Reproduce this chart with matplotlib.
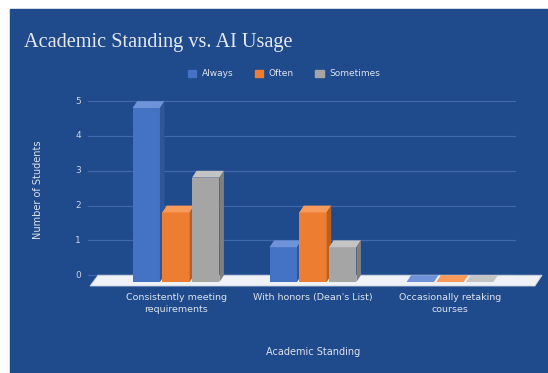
import numpy as np
import matplotlib.pyplot as plt
from matplotlib.patches import Polygon, Rectangle

# chart data
categories = ['Consistently meeting\nrequirements', "With honors (Dean's List)", 'Occasionally retaking\ncourses']
series = ['Always', 'Often', 'Sometimes']
always = [5, 1, 0]
often = [2, 2, 0]
sometimes = [3, 1, 0]
yticks = [0, 1, 2, 3, 4, 5]

colors = ['#4472c4', '#ed7d31', '#a5a5a5']
tops = ['#6f93d8', '#f79a5a', '#c4c4c4']
sides = ['#2f559a', '#b95f1f', '#7f7f7f']
bg = '#1f4a8c'
txt = '#dde3ee'
font = ['Liberation Sans Narrow', 'DejaVu Sans']

fig = plt.figure(figsize=(5.48, 3.73), dpi=100)
fig.patch.set_facecolor('white')
ax = fig.add_axes([0, 0, 1, 1])
ax.axis('off')
# one data unit = 137 px across, 34.8 px up
ax.set_xlim(-176 / 137, (548 - 176) / 137)
ax.set_ylim(-(373 - 282) / 34.8, 282 / 34.8)

# background panel
x0 = (10 - 176) / 137
y1 = (282 - 9) / 34.8
ax.add_patch(Rectangle((x0, ax.get_ylim()[0]), 10, y1 - ax.get_ylim()[0], color=bg, zorder=0))

dx = 4.5 / 137   # depth offset
dy = 6.8 / 34.8

# gridlines on back wall
for v in yticks:
    ax.plot([-0.642, 2.474], [v + dy, v + dy], color='#3f68ad', lw=0.9, zorder=1)
    ax.text(-0.715, v + dy, str(v), color='#ccd4e2', fontsize=6.5, ha='center', va='center', family=font)

# floor
floor = Polygon([(-0.628, -0.115), (2.620, -0.115), (2.672, dy), (-0.569, dy)],
                closed=True, facecolor='#eef1f6', edgecolor='#c9d0dc', lw=0.6, zorder=2)
ax.add_patch(floor)

x = np.arange(len(categories))
w = 0.2
step = 0.217
for i, vals in enumerate([always, often, sometimes]):
    xs = x + (i - 1) * step
    ax.bar(xs, vals, width=w, color=colors[i], zorder=3 + i)
    for xc, v in zip(xs, vals):
        l, r = xc - w / 2, xc + w / 2
        ax.add_patch(Polygon([(l, v), (r, v), (r + dx, v + dy), (l + dx, v + dy)],
                             closed=True, facecolor=tops[i], lw=0, zorder=3 + i))
        if v > 0:
            ax.add_patch(Polygon([(r, 0), (r + dx, dy), (r + dx, v + dy), (r, v)],
                                 closed=True, facecolor=sides[i], lw=0, zorder=3 + i))

# category labels
for xc, lab in zip(x, categories):
    ax.text(xc, (282 - 293) / 34.8, lab, color=txt, fontsize=6.8, ha='center', va='top',
            family=font, linespacing=1.5)

ax.text(1, (282 - 352) / 34.8, 'Academic Standing', color=txt, fontsize=7,
        ha='center', va='center', family=font)
ax.text((38 - 176) / 137, (282 - 190) / 34.8, 'Number of Students', color=txt, fontsize=7,
        ha='center', va='center', rotation=90, family=font)

ax.text((24 - 176) / 137, (282 - 43) / 34.8, 'Academic Standing vs. AI Usage', color='#e6e9ef',
        fontsize=14.6, ha='left', va='center', family=['Liberation Serif', 'DejaVu Serif'])

handles = [Rectangle((0, 0), 1, 1, color=c) for c in colors]
leg = ax.legend(handles, series, loc='center', bbox_to_anchor=(284 / 548, 1 - 74 / 373),
                ncol=3, frameon=False, handlelength=0.9, handleheight=0.9,
                handletextpad=0.6, columnspacing=2.4, labelcolor=txt,
                prop={'family': font, 'size': 6.5})

fig.savefig('out.png', dpi=100, facecolor=fig.get_facecolor())
